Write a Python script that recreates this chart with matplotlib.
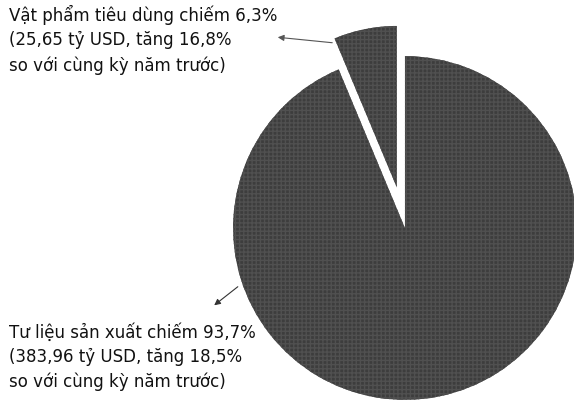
import numpy as np
import matplotlib.pyplot as plt

# co cau hang nhap khau
labels = ['Vật phẩm tiêu dùng', 'Tư liệu sản xuất']
shares = [6.3, 93.7]
values = [25.65, 383.96]
growth = [16.8, 18.5]
explode = [0.24, 0.0]

plt.rcParams['font.family'] = ['DejaVu Sans']

fig = plt.figure(figsize=(5.74, 4), dpi=100)
ax = fig.add_axes([0.406, 0.0, 0.599, 0.86])

wedges, _ = ax.pie(shares, explode=explode, startangle=90, counterclock=True,
                   colors=['#3d3d3d', '#3d3d3d'], radius=1.0,
                   wedgeprops=dict(linewidth=0))
for w in wedges:
    w.set_clip_on(False)
    w.set_hatch('++++')
    w.set_edgecolor('#505050')
    w.set_linewidth(0)
# the small slice is drawn a bit shorter in the original
wedges[0].set_radius(0.94)
ax.set_xlim(-1, 1)
ax.set_ylim(-1, 1)
ax.set_aspect('equal')
ax.axis('off')

def fmt(x):
    return ('%g' % x).replace('.', ',')

txt_top = '%s chiếm %s%%\n(%s tỷ USD, tăng %s%%\nso với cùng kỳ năm trước)' % (
    labels[0], fmt(shares[0]), fmt(values[0]), fmt(growth[0]))
txt_bot = '%s chiếm %s%%\n(%s tỷ USD, tăng %s%%\nso với cùng kỳ năm trước)' % (
    labels[1], fmt(shares[1]), fmt(values[1]), fmt(growth[1]))

fig.text(9 / 574, 1 - 5 / 400, txt_top, ha='left', va='top',
         fontsize=12, linespacing=1.45, color='#111111')
fig.text(9 / 574, 1 - 323 / 400, txt_bot, ha='left', va='top',
         fontsize=12, linespacing=1.45, color='#111111')

# arrows
ax.annotate('', xy=(275 / 574, 1 - 37 / 400), xycoords='figure fraction',
            xytext=(335 / 574, 1 - 43 / 400), textcoords='figure fraction',
            arrowprops=dict(arrowstyle='-|>', color='#555555', lw=0.8,
                            mutation_scale=9))
ax.annotate('', xy=(212 / 574, 1 - 307 / 400), xycoords='figure fraction',
            xytext=(240 / 574, 1 - 285 / 400), textcoords='figure fraction',
            arrowprops=dict(arrowstyle='-|>', color='#333333', lw=0.8,
                            mutation_scale=9))

fig.savefig('out.png', dpi=100)
